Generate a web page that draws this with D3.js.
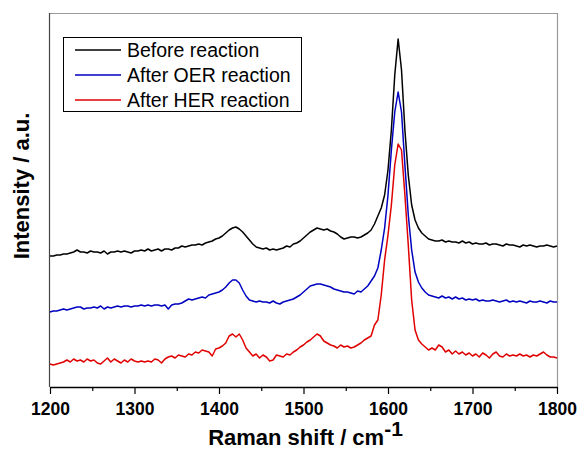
<!DOCTYPE html>
<html>
<head>
<meta charset="utf-8">
<script src="https://cdn.jsdelivr.net/npm/d3@7"></script>
<style>
  html, body { margin: 0; padding: 0; background: #fff; }
  svg { display: block; }
  text { font-family: Arial, "Liberation Sans", sans-serif; }
</style>
</head>
<body>
<svg id="chart" width="577" height="450"></svg>
<script>
// Raman shift axis, sampled every 4 cm^-1 from 1200 to 1800
const ramanShift = d3.range(1200, 1801, 4);

// Stacked spectra (arbitrary intensity units, offsets already applied)
const beforeReaction = [
  131,131,132,132,133,133,134,135,137,135,135,134,136,135,135,134,136,133,135,135,
  136,135,136,135,134,136,136,137,136,138,136,137,138,136,138,138,137,139,139,141,
  140,141,142,142,143,142,144,145,146,148,149,151,154,157,159,160,158,155,151,147,
  143,140,139,138,139,137,138,137,138,139,141,140,143,144,146,149,152,155,157,159,
  158,157,158,156,155,153,150,148,149,150,150,149,150,152,154,157,163,171,179,192,
  217,257,312,348,317,257,212,182,167,159,154,151,148,147,146,146,147,145,146,145,
  145,144,146,144,145,143,144,143,143,144,142,143,143,142,141,143,142,142,141,140,
  142,141,142,141,140,141,141,142,141,140,141
];

const afterOER = [
  75,76,76,77,78,77,78,79,80,80,78,79,79,80,79,81,78,80,79,80,
  81,80,81,81,80,81,81,82,81,82,81,82,82,81,82,78,82,83,83,84,
  86,88,87,88,89,90,89,92,93,94,95,97,100,104,107,107,104,97,91,87,
  86,85,86,85,85,84,86,84,83,85,86,87,88,90,92,95,98,101,102,103,
  103,102,101,100,98,97,96,95,95,94,93,96,95,98,101,106,111,119,137,159,
  192,237,275,295,275,222,172,137,115,105,99,95,92,91,90,89,91,89,90,88,
  90,88,89,87,88,87,88,86,87,86,86,87,86,85,86,87,85,86,85,86,
  85,84,86,85,85,86,85,84,86,85,85
];

const afterHER = [
  23,22,23,24,25,27,25,28,26,27,25,28,26,27,24,23,26,29,25,28,
  26,24,27,25,28,26,25,26,25,26,25,28,27,24,28,30,31,29,32,31,
  30,33,32,35,34,37,36,35,31,38,39,41,44,51,53,50,53,47,39,35,
  31,33,29,32,30,26,27,32,31,30,33,32,35,37,40,42,45,47,50,53,
  51,46,44,42,41,39,42,40,41,39,40,42,44,47,49,51,62,67,92,127,
  152,182,222,243,237,192,142,87,57,47,43,40,37,39,37,42,40,35,37,33,
  36,33,35,32,34,31,33,30,34,32,29,33,35,31,30,33,31,32,31,33,
  31,32,30,32,31,33,35,32,30,30,29
];

const seriesNames = ["Before reaction", "After OER reaction", "After HER reaction"];
const seriesColors = ["#000000", "#0000c0", "#e00000"];
const seriesValues = [beforeReaction, afterOER, afterHER];

const xTicks = [1200, 1300, 1400, 1500, 1600, 1700, 1800];
const xMinorTicks = [1250, 1350, 1450, 1550, 1650, 1750];

const svg = d3.select("#chart");
const margin = { left: 50, right: 20, top: 13, bottom: 63 };
const W = 577, H = 450;
const x0 = margin.left, x1 = W - margin.right;
const y0 = H - margin.bottom, y1 = margin.top;

const x = d3.scaleLinear().domain([1200, 1800]).range([x0, x1]);
const y = d3.scaleLinear().domain([0, 374]).range([y0, y1]);

// frame: top/right lighter, left/bottom dark
svg.append("line").attr("x1", x0).attr("x2", x1).attr("y1", y1 + 0.5).attr("y2", y1 + 0.5)
  .attr("stroke", "#9a9a9a").attr("stroke-width", 1.2);
svg.append("line").attr("x1", x1 + 0.5).attr("x2", x1 + 0.5).attr("y1", y1).attr("y2", y0)
  .attr("stroke", "#9a9a9a").attr("stroke-width", 1.2);
svg.append("line").attr("x1", x0 - 0.5).attr("x2", x0 - 0.5).attr("y1", y1).attr("y2", y0)
  .attr("stroke", "#444").attr("stroke-width", 1.2);

// spectra
const line = d3.line()
  .x((d, i) => x(ramanShift[i]))
  .y(d => y(d));

seriesValues.forEach((vals, k) => {
  svg.append("path")
    .datum(vals)
    .attr("fill", "none")
    .attr("stroke", seriesColors[k])
    .attr("stroke-width", 1.5)
    .attr("stroke-linejoin", "round")
    .attr("d", line);
});

// bottom axis with major and minor ticks
const xAxis = d3.axisBottom(x).tickValues(xTicks).tickSize(7).tickSizeOuter(0)
  .tickFormat(d3.format("d"));
const gx = svg.append("g").attr("transform", `translate(0,${y0})`).call(xAxis);
gx.select(".domain").attr("stroke", "#000").attr("stroke-width", 1.3);
gx.selectAll(".tick line").attr("stroke", "#000").attr("stroke-width", 1.2);
gx.selectAll(".tick text")
  .attr("dy", "1.0em")
  .style("font-family", "Arial, 'Liberation Sans', sans-serif")
  .style("font-size", "17.5px")
  .style("font-weight", "bold")
  .attr("fill", "#000");

const xMinor = d3.axisBottom(x).tickValues(xMinorTicks).tickSize(4).tickFormat("");
const gm = svg.append("g").attr("transform", `translate(0,${y0})`).call(xMinor);
gm.select(".domain").remove();
gm.selectAll(".tick line").attr("stroke", "#000").attr("stroke-width", 1.2);

// axis titles
const xt = svg.append("text")
  .attr("x", (x0 + x1) / 2 + 2)
  .attr("y", 445)
  .attr("text-anchor", "middle")
  .style("font-size", "22px")
  .style("font-weight", "bold");
xt.append("tspan").text("Raman shift / cm");
xt.append("tspan").attr("dy", -9).style("font-size", "21px").text("-1");

svg.append("text")
  .attr("transform", `translate(29,186) rotate(-90)`)
  .attr("text-anchor", "middle")
  .style("font-size", "22px")
  .style("font-weight", "bold")
  .text("Intensity / a.u.");

// legend
const lg = svg.append("g");
lg.append("rect")
  .attr("x", 63.5).attr("y", 37.5).attr("width", 238).attr("height", 74)
  .attr("fill", "#fff").attr("stroke", "#000").attr("stroke-width", 1);
seriesNames.forEach((name, k) => {
  const cy = 50 + k * 25;
  lg.append("line")
    .attr("x1", 75).attr("x2", 121).attr("y1", cy).attr("y2", cy)
    .attr("stroke", seriesColors[k]).attr("stroke-width", 1.5);
  lg.append("text")
    .attr("x", 127).attr("y", cy + 6.5)
    .style("font-size", "19.5px")
    .text(name);
});
</script>
</body>
</html>
